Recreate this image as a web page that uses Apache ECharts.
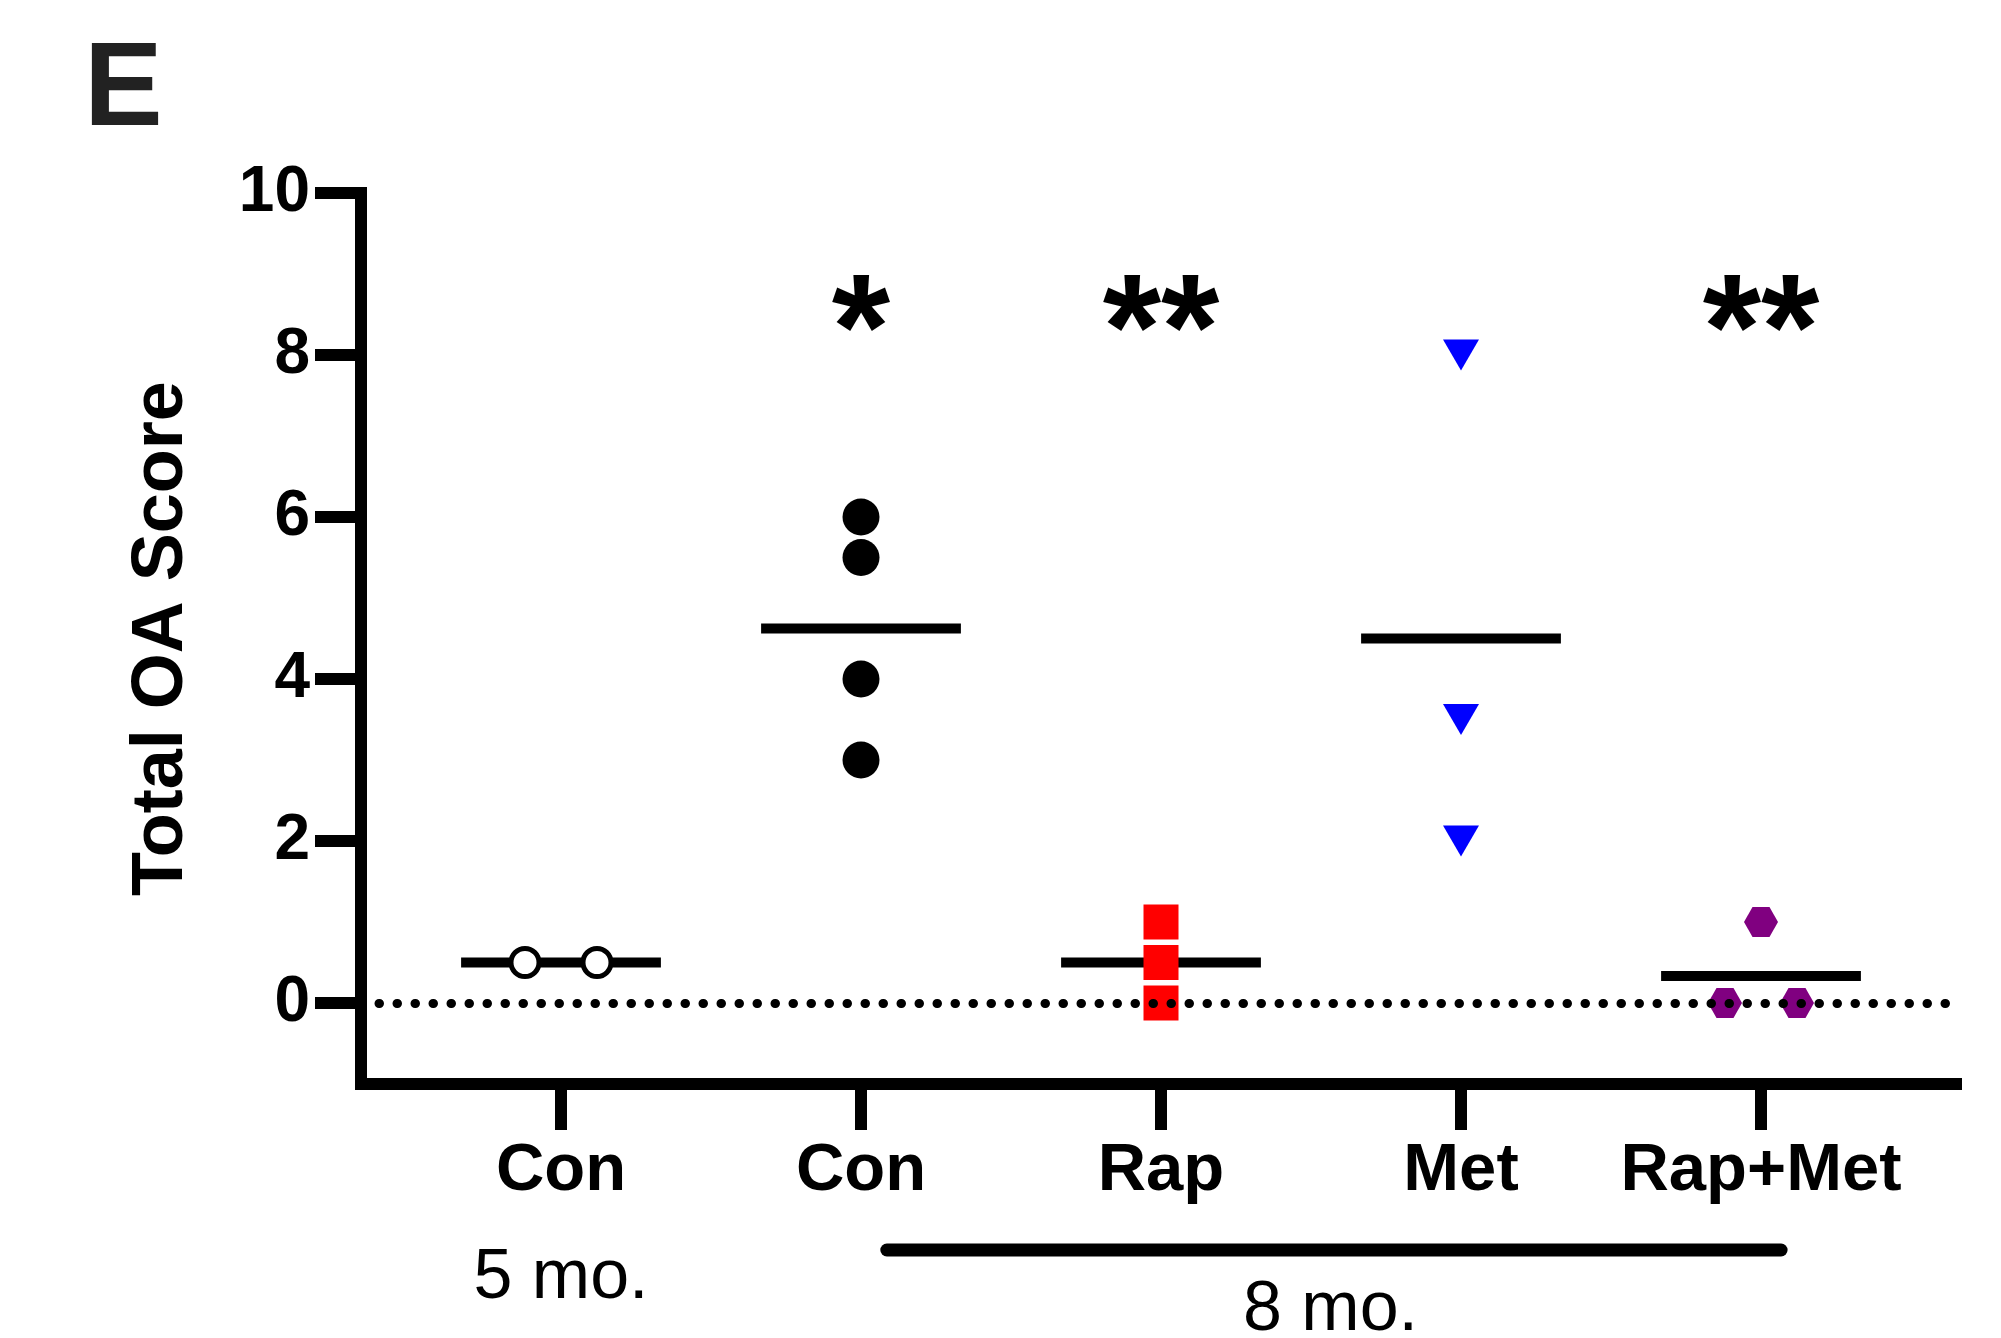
<!DOCTYPE html>
<html>
<head>
    <meta charset="UTF-8">
    <title>Total OA Score</title>
    <script src="https://cdn.jsdelivr.net/npm/echarts@6/dist/echarts.min.js"></script>
</head>
<style>
    html, body {
        margin: 0;
        padding: 0;
        background: #fff;
    }
    #chart {
        width: 2001px;
        height: 1338px;
    }
</style>
<body>
<div id="chart"></div>
<script>
// groups on the x axis
const groups = ['Con', 'Con', 'Rap', 'Met', 'Rap+Met'];
// individual scores per group
const con5 = [0.5, 0.5];
const con8 = [6, 5.5, 4, 3];
const rap = [1, 0.5, 0];
const met = [8, 3.5, 2];
const rapMet = [1, 0, 0];
// significance marks above each group
const sigMarks = ['', '*', '**', '', '**'];
const yTicks = [0, 2, 4, 6, 8, 10];
const xTicks = [0, 1, 2, 3, 4];

const FONT = "'Liberation Sans', Arial, Helvetica, sans-serif";
const SPREAD = 72;       // px between points with the same value
const MEAN_HALF = 0.333; // half width of the mean bar, in x units
const SIG_Y = 8.22;

// spread points with equal values sideways
function swarm(x, values) {
    const counts = {};
    values.forEach(v => { counts[v] = (counts[v] || 0) + 1; });
    const seen = {};
    return values.map(v => {
        const n = counts[v];
        const k = seen[v] || 0;
        seen[v] = k + 1;
        return { value: [x, v], symbolOffset: [(k - (n - 1) / 2) * SPREAD, 0] };
    });
}

const mean = arr => arr.reduce((a, b) => a + b, 0) / arr.length;
const allGroups = [con5, con8, rap, met, rapMet];

const hexagon = 'path://M0,5 L2.887,0 L8.66,0 L11.547,5 L8.66,10 L2.887,10 Z';
const triDown = 'path://M0,0 L10,0 L5,8.66 Z';

const chart = echarts.init(document.getElementById('chart'));

const option = {
    animation: false,
    grid: { left: 361, right: 45, top: 193, bottom: 254, containLabel: false },
    xAxis: {
        type: 'value',
        min: -2 / 3,
        max: 4.65,
        splitLine: { show: false },
        axisLine: { onZero: false, lineStyle: { color: '#000', width: 12, cap: 'square' } },
        axisTick: { customValues: xTicks, length: 46, lineStyle: { color: '#000', width: 12 } },
        axisLabel: {
            customValues: xTicks,
            formatter: v => groups[v],
            margin: 54,
            color: '#000',
            fontFamily: FONT,
            fontWeight: 'bold',
            fontSize: 67
        }
    },
    yAxis: {
        type: 'value',
        min: -1,
        max: 10,
        splitLine: { show: false },
        name: 'Total OA Score',
        nameLocation: 'middle',
        nameRotate: 90,
        nameGap: 163,
        nameTextStyle: { color: '#000', fontFamily: FONT, fontWeight: 'bold', fontSize: 72 },
        axisLine: { onZero: false, lineStyle: { color: '#000', width: 12, cap: 'square' } },
        axisTick: { customValues: yTicks, length: 46, lineStyle: { color: '#000', width: 12 } },
        axisLabel: {
            customValues: yTicks,
            margin: 51,
            color: '#000',
            fontFamily: FONT,
            fontWeight: 'bold',
            fontSize: 64
        }
    },
    series: [
        {
            // mean bars + dotted zero line
            type: 'custom',
            z: 2,
            data: allGroups.map((g, i) => [i, mean(g)]),
            renderItem: (params, api) => {
                const x = api.value(0), m = api.value(1);
                const p1 = api.coord([x - MEAN_HALF, m]);
                const p2 = api.coord([x + MEAN_HALF, m]);
                return {
                    type: 'line',
                    shape: { x1: p1[0], y1: p1[1], x2: p2[0], y2: p2[1] },
                    style: { stroke: '#000', lineWidth: 10 }
                };
            },
            markLine: {
                silent: true,
                symbol: 'none',
                label: { show: false },
                lineStyle: { color: '#000', width: 9, type: [0.5, 17.5], cap: 'round', opacity: 1 },
                data: [{ yAxis: 0 }]
            }
        },
        {
            type: 'scatter', z: 3,
            symbol: 'circle', symbolSize: 28,
            itemStyle: { color: '#fff', borderColor: '#000', borderWidth: 5, opacity: 1 },
            data: swarm(0, con5)
        },
        {
            type: 'scatter', z: 3,
            symbol: 'circle', symbolSize: 37,
            itemStyle: { color: '#000', opacity: 1 },
            data: swarm(1, con8)
        },
        {
            type: 'scatter', z: 3,
            symbol: 'rect', symbolSize: 35,
            itemStyle: { color: '#ff0000', opacity: 1 },
            data: swarm(2, rap)
        },
        {
            type: 'scatter', z: 3,
            symbol: triDown, symbolSize: [36, 31],
            itemStyle: { color: '#0000ff', opacity: 1 },
            data: swarm(3, met)
        },
        {
            type: 'scatter', z: 3,
            symbol: hexagon, symbolSize: [34, 30],
            itemStyle: { color: '#800080', opacity: 1 },
            data: swarm(4, rapMet)
        },
        {
            // significance asterisks
            type: 'scatter', z: 4,
            symbolSize: 0,
            itemStyle: { opacity: 1 },
            data: sigMarks.map((s, i) => ({ value: [i, SIG_Y], mark: s })),
            label: {
                show: true,
                position: 'inside',
                formatter: p => p.data.mark,
                color: '#000',
                opacity: 1,
                fontFamily: FONT,
                fontWeight: 'bold',
                fontSize: 150
            }
        }
    ]
};

chart.setOption(option);

// panel letter and age annotations under the axis
const px = x => chart.convertToPixel({ gridIndex: 0 }, [x, 0])[0];
const AGE_FONT = '70px ' + FONT;
chart.setOption({
    graphic: [
        {
            type: 'text',
            left: 84,
            top: 33,
            style: { text: 'E', fill: '#222', font: 'bold 118px ' + FONT }
        },
        {
            type: 'text',
            x: px(0), y: 1279,
            style: { text: '5 mo.', fill: '#000', font: AGE_FONT, align: 'center', verticalAlign: 'middle' }
        },
        {
            type: 'line',
            shape: { x1: px(1.086), y1: 1250, x2: px(4.067), y2: 1250 },
            style: { stroke: '#000', lineWidth: 13, lineCap: 'round' }
        },
        {
            type: 'text',
            x: px(2.565), y: 1311,
            style: { text: '8 mo.', fill: '#000', font: AGE_FONT, align: 'center', verticalAlign: 'middle' }
        }
    ]
});
</script>
</body>
</html>
